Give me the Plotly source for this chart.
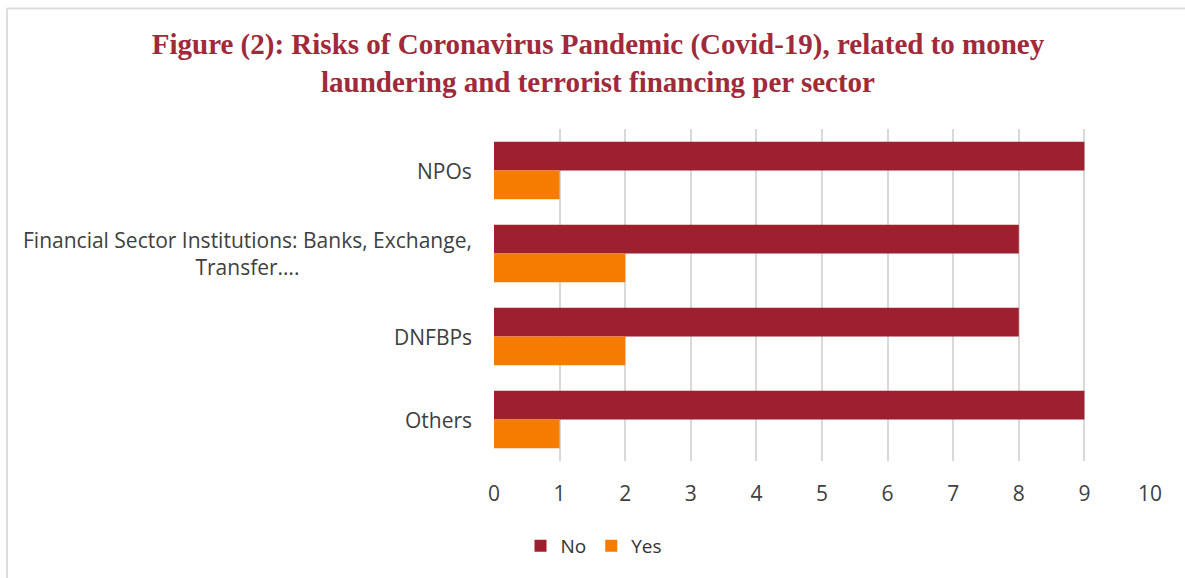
import plotly.graph_objects as go

categories = ["NPOs", "Financial Sector Institutions: Banks, Exchange,<br>Transfer….", "DNFBPs", "Others"]
no_values = [9, 8, 8, 9]
yes_values = [1, 2, 2, 1]
x_ticks = [0, 1, 2, 3, 4, 5, 6, 7, 8, 9, 10]

label_font = dict(family="Open Sans, Lato, sans-serif", size=21, color="#404040")
legend_font = dict(family="Open Sans, Lato, sans-serif", size=19, color="#333333")

fig = go.Figure()
fig.add_trace(go.Bar(y=categories, x=no_values, name="No", orientation="h",
                     marker=dict(color="#9E1F2E", line=dict(width=0))))
fig.add_trace(go.Bar(y=categories, x=yes_values, name="Yes", orientation="h",
                     marker=dict(color="#F57C00", line=dict(width=0))))

for c in categories:
    fig.add_annotation(x=0, y=c, xref="x", yref="y", text=c, showarrow=False,
                       xanchor="right", yanchor="middle", xshift=-20, align="center",
                       font=label_font)

fig.update_layout(
    width=1185, height=578,
    margin=dict(l=494, r=35, t=129, b=117, autoexpand=False),
    paper_bgcolor="white", plot_bgcolor="white",
    barmode="group", bargap=0.31, bargroupgap=0,
    title=dict(text="<b>Figure (2): Risks of Coronavirus Pandemic (Covid-19), related to money<br>laundering and terrorist financing per sector</b>",
               x=598/1185, xanchor="center", xref="container",
               y=1 - 54/578, yanchor="top", yref="container",
               font=dict(family="Liberation Serif, Times New Roman, serif", size=29, color="#A0293A")),
    xaxis=dict(range=[0, 10], tickvals=x_ticks, showgrid=True, gridcolor="#D9D9D9", gridwidth=1.5,
               zeroline=False, showline=False, ticks="", ticklabelstandoff=18,
               tickfont=label_font),
    yaxis=dict(autorange="reversed", showticklabels=False, showgrid=False, zeroline=False,
               showline=False, ticks=""),
    legend=dict(orientation="h", x=(594 - 494) / 656, xref="paper", xanchor="center",
                y=(461 - 546) / 332, yanchor="middle", traceorder="normal",
                font=legend_font),
    shapes=[
        dict(type="line", xref="paper", yref="paper", x0=(7 - 494) / 656, x1=(1185 - 494) / 656,
             y0=(461 - 8.5) / 332, y1=(461 - 8.5) / 332, line=dict(color="#DDDDDD", width=2)),
        dict(type="line", xref="paper", yref="paper", x0=(7 - 494) / 656, x1=(7 - 494) / 656,
             y0=(461 - 8.5) / 332, y1=(461 - 578) / 332, line=dict(color="#DDDDDD", width=2)),
    ],
)

fig.write_html("out.html")
